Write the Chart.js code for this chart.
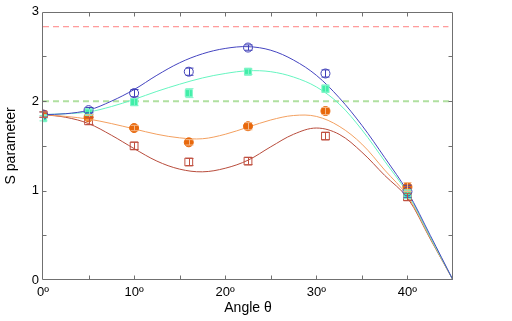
<!DOCTYPE html>
<html>
<head>
<meta charset="utf-8">
<script src="https://cdn.jsdelivr.net/npm/chart.js@4.4.1/dist/chart.umd.min.js"></script>
<style>
  html, body { margin: 0; padding: 0; background: #fff; }
</style>
</head>
<body>
<canvas id="myChart" width="512" height="321"></canvas>
<script>
// fitted curves, every 2.5 degrees
const fit_angles = [0, 2.5, 5, 7.5, 10, 12.5, 15, 17.5, 20, 22.5, 25, 27.5, 30, 32.5, 35, 37.5, 40, 42.5, 45];
const fit_blue   = [1.85, 1.86, 1.90, 2.00, 2.13, 2.29, 2.43, 2.53, 2.59, 2.61, 2.57, 2.46, 2.29, 2.04, 1.73, 1.37, 0.99, 0.50, 0];
const fit_cyan   = [1.85, 1.86, 1.88, 1.94, 2.02, 2.11, 2.19, 2.26, 2.31, 2.34, 2.33, 2.27, 2.16, 1.97, 1.68, 1.33, 0.97, 0.48, 0];
const fit_orange = [1.85, 1.83, 1.80, 1.75, 1.69, 1.63, 1.59, 1.58, 1.63, 1.71, 1.79, 1.84, 1.83, 1.72, 1.52, 1.23, 0.94, 0.47, 0];
const fit_brown  = [1.85, 1.82, 1.75, 1.62, 1.47, 1.33, 1.24, 1.21, 1.25, 1.34, 1.49, 1.63, 1.70, 1.63, 1.43, 1.17, 0.92, 0.46, 0];

// measured points with error bars
const meas_angles = [0, 5, 10, 16, 22.5, 31, 40];
const meas_blue   = [1.85, 1.90, 2.09, 2.33, 2.60, 2.31, 0.99];
const err_blue    = [0.03, 0.03, 0.04, 0.04, 0.03, 0.04, 0.07];
const meas_cyan   = [1.81, 1.88, 1.99, 2.09, 2.33, 2.14, 0.96];
const err_cyan    = [0.03, 0.03, 0.04, 0.05, 0.03, 0.04, 0.05];
const meas_orange = [1.85, 1.82, 1.70, 1.54, 1.72, 1.89, 1.04];
const err_orange  = [0.03, 0.03, 0.03, 0.03, 0.04, 0.04, 0.05];
const meas_brown  = [1.85, 1.78, 1.50, 1.32, 1.33, 1.61, 0.93];
const err_brown   = [0.03, 0.04, 0.04, 0.04, 0.04, 0.04, 0.04];

// horizontal reference lines
const ref_red = 2.833;
const ref_green = 2.0;

const x_labels = {0: '0º', 10: '10º', 20: '20º', 30: '30º', 40: '40º'};
const y_labels = {0: '0', 1: '1', 2: '2', 3: '3'};

function pairs(xs, ys) {
  return xs.map((x, i) => ({x: x, y: ys[i]}));
}

function fit_line(values, color) {
  return {
    type: 'line',
    data: pairs(fit_angles, values),
    borderColor: color,
    borderWidth: 1,
    pointRadius: 0,
    tension: 0.35,
    fill: false,
    order: 2
  };
}

function meas_points(values, errors, style, radius, fillColor, strokeColor, errColor) {
  return {
    type: 'scatter',
    data: pairs(meas_angles, values),
    errors: errors,
    errorColor: errColor,
    pointStyle: style,
    pointRadius: radius,
    backgroundColor: fillColor,
    borderColor: strokeColor,
    borderWidth: 1,
    order: 1
  };
}

function ref_line(value, x_end, color, width, dash) {
  return {
    type: 'line',
    data: [{x: 0, y: value}, {x: x_end, y: value}],
    borderColor: color,
    borderWidth: width,
    borderDash: dash,
    pointRadius: 0,
    fill: false,
    order: 3
  };
}

//  error bars drawn with the y scale
const errorbar_plugin = {
  id: 'errorbars',
  afterDatasetsDraw(chart) {
    const ctx = chart.ctx;
    const ys = chart.scales.y;
    chart.data.datasets.forEach((ds, i) => {
      if (!ds.errors) return;
      const meta = chart.getDatasetMeta(i);
      ctx.save();
      ctx.strokeStyle = ds.errorColor;
      ctx.lineWidth = 1;
      meta.data.forEach((pt, j) => {
        const v = ds.data[j].y;
        const e = ds.errors[j];
        const y1 = ys.getPixelForValue(v + e);
        const y2 = ys.getPixelForValue(v - e);
        const x = Math.round(pt.x) + 0.5;
        ctx.beginPath();
        ctx.moveTo(x, y1); ctx.lineTo(x, y2);
        ctx.moveTo(x - 4, y1); ctx.lineTo(x + 4, y1);
        ctx.moveTo(x - 4, y2); ctx.lineTo(x + 4, y2);
        ctx.stroke();
      });
      ctx.restore();
    });
  }
};

//  box around the plot with inward ticks
const frame_plugin = {
  id: 'frame',
  afterDraw(chart) {
    const ctx = chart.ctx;
    const a = chart.chartArea;
    const xs = chart.scales.x;
    const ys = chart.scales.y;
    const l = Math.round(a.left) - 0.5, r = Math.round(a.right) - 0.5;
    const t = Math.round(a.top) + 0.5, b = Math.round(a.bottom) - 0.5;
    ctx.save();
    ctx.strokeStyle = '#707070';
    ctx.lineWidth = 1;
    ctx.beginPath();
    ctx.rect(l, t, r - l, b - t);
    for (let v = 5; v < 45; v += 5) {
      const x = Math.round(xs.getPixelForValue(v)) + 0.5;
      ctx.moveTo(x, b); ctx.lineTo(x, b - 4);
      ctx.moveTo(x, t); ctx.lineTo(x, t + 4);
    }
    for (let v = 0.5; v < 3; v += 0.5) {
      const y = Math.round(ys.getPixelForValue(v)) + 0.5;
      ctx.moveTo(l, y); ctx.lineTo(l + 4, y);
      ctx.moveTo(r, y); ctx.lineTo(r - 4, y);
    }
    ctx.stroke();
    ctx.restore();
  }
};

Chart.defaults.font.family = "'Liberation Sans', Arial, sans-serif";
Chart.defaults.color = '#000';

const ctx = document.getElementById('myChart').getContext('2d');
const myChart = new Chart(ctx, {
  data: {
    datasets: [
      ref_line(ref_red, 44.5, '#ff8080', 1, [6, 4]),
      ref_line(ref_green, 45, '#b0e0a0', 2, [6, 4]),
      fit_line(fit_blue, '#4545c0'),
      fit_line(fit_cyan, '#66f5c0'),
      fit_line(fit_orange, '#f3a060'),
      fit_line(fit_brown, '#b84c3c'),
      meas_points(meas_blue, err_blue, 'circle', 4.5, 'rgba(0,0,0,0)', '#4040b8', '#4040b8'),
      meas_points(meas_cyan, err_cyan, 'rect', 5, '#40eea8', '#7ff5c8', '#7ff5c8'),
      meas_points(meas_orange, err_orange, 'circle', 4.5, '#e8680c', '#e8680c', '#f5b888'),
      meas_points(meas_brown, err_brown, 'rect', 5.5, 'rgba(0,0,0,0)', '#c05040', '#c05040')
    ]
  },
  options: {
    responsive: false,
    animation: false,
    layout: { padding: { top: 10, right: 59, bottom: 0, left: 0 } },
    plugins: {
      legend: { display: false },
      tooltip: { enabled: false }
    },
    scales: {
      x: {
        type: 'linear',
        min: 0,
        max: 45,
        grid: { display: false, drawTicks: false },
        border: { display: false },
        afterFit: (scale) => { scale.height = 41; },
        ticks: {
          stepSize: 5,
          autoSkip: false,
          maxRotation: 0,
          padding: 5,
          font: { size: 13 },
          callback: (v) => x_labels[v] || ''
        },
        title: {
          display: true,
          text: 'Angle θ',
          font: { size: 14 },
          padding: { top: 0, bottom: 4 }
        }
      },
      y: {
        type: 'linear',
        min: 0,
        max: 3,
        grid: { display: false, drawTicks: false },
        border: { display: false },
        afterFit: (scale) => { scale.width = 43; },
        ticks: {
          stepSize: 0.5,
          autoSkip: false,
          padding: 4,
          font: { size: 13 },
          callback: (v) => (y_labels[v] !== undefined ? y_labels[v] : '')
        },
        title: {
          display: true,
          text: 'S parameter',
          font: { size: 14 },
          padding: { top: 3, bottom: 0 }
        }
      }
    }
  },
  plugins: [errorbar_plugin, frame_plugin]
});
</script>
</body>
</html>
